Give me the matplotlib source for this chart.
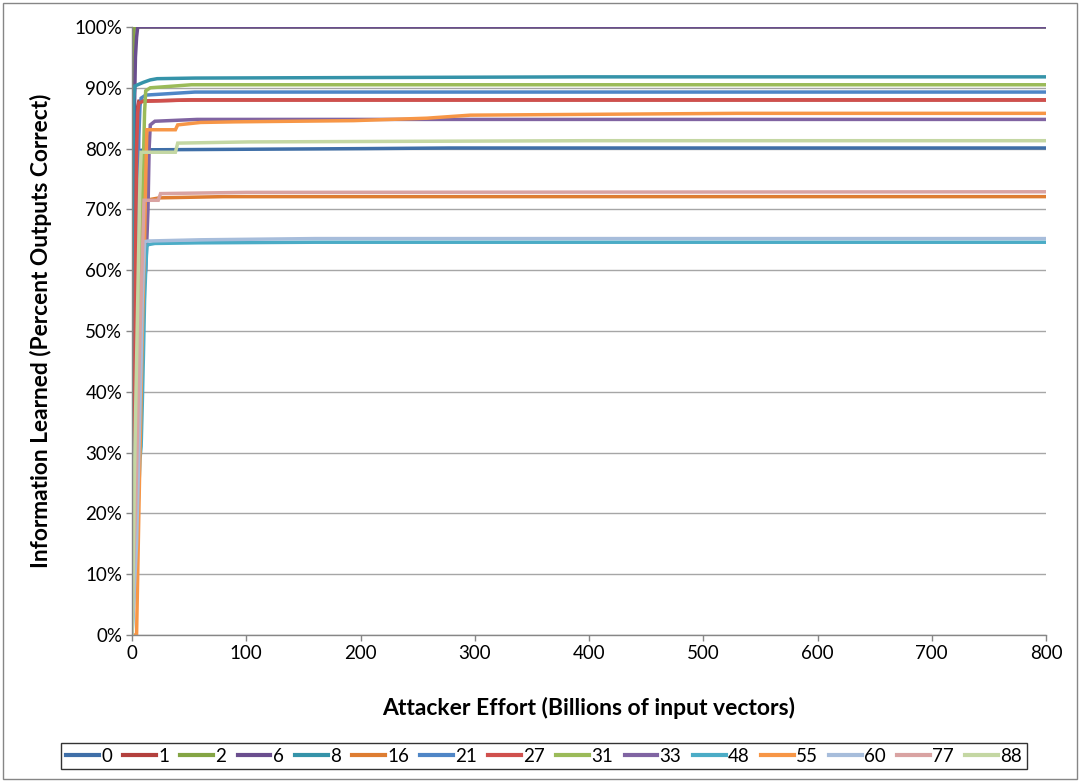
import matplotlib
matplotlib.use("Agg")
import matplotlib.pyplot as plt
from matplotlib.ticker import PercentFormatter, MultipleLocator
from matplotlib.patches import Rectangle

plt.rcParams['font.family'] = ['Lato', 'DejaVu Sans']

# ---- data (x: billions of input vectors, y: percent outputs correct) ----
labels = ["0", "1", "2", "6", "8", "16", "21", "27", "31", "33", "48", "55", "60", "77", "88"]

x0 = [0, 1, 2, 3, 4, 12, 204, 278, 800]
y0 = [15, 40, 62, 78, 79.6, 79.8, 80.0, 80.1, 80.1]

x1 = [0, 1, 2, 3, 4, 6, 50, 800]
y1 = [12, 30, 55, 80, 86, 87.8, 88.0, 88.0]

x2 = [0, 0.5, 1, 1.5, 2, 800]
y2 = [13, 60, 90, 98, 100, 100]

x6 = [0, 0.5, 1, 2, 3, 4, 5, 800]
y6 = [27, 45, 65, 85, 95, 98.3, 100, 100]

x8 = [0, 0.5, 1, 1.5, 2.5, 5, 10, 16, 22, 55, 395, 800]
y8 = [30, 60, 80, 88, 90.3, 90.5, 90.9, 91.3, 91.5, 91.6, 91.8, 91.8]

x16 = [0, 2, 4, 6, 8, 10, 12, 24, 80, 800]
y16 = [5, 20, 40, 55, 65, 70, 71.5, 71.9, 72.1, 72.1]

x21 = [0, 3, 5, 6, 7, 8, 12, 55, 800]
y21 = [20, 50, 70, 82, 87, 88.3, 88.8, 89.3, 89.3]

x27 = [0, 2, 3, 4, 5, 6, 10, 52, 800]
y27 = [10, 30, 60, 80, 86, 87.5, 87.8, 88.0, 88.0]

x31 = [0, 5, 8, 10, 11, 12, 16, 52, 800]
y31 = [10, 35, 60, 78, 86, 89.5, 90.0, 90.5, 90.5]

x33 = [0, 6, 10, 12, 14, 15, 16, 20, 57, 800]
y33 = [20, 45, 57, 60, 70, 80, 83.9, 84.5, 84.8, 84.8]

x48 = [0, 6, 7, 8, 9, 10, 11, 12, 13, 14, 20, 58, 160, 800]
y48 = [0, 24, 29, 31, 38, 46, 55, 60, 63.9, 64.2, 64.4, 64.5, 64.6, 64.6]

x55 = [0, 4, 5, 7, 9, 11, 12, 13, 38, 40, 60, 90, 194, 258, 296, 530, 800]
y55 = [0, 0, 10, 30, 50, 65, 75, 83.1, 83.1, 83.9, 84.3, 84.4, 84.6, 85.0, 85.5, 85.8, 85.8]

x60 = [0, 4, 6, 8, 9, 10, 11, 14, 60, 160, 800]
y60 = [0, 15, 30, 45, 55, 60, 64.7, 64.8, 65.0, 65.2, 65.2]

x77 = [0, 3, 5, 7, 9, 10, 10.5, 23, 25, 100, 800]
y77 = [5, 20, 35, 50, 62, 68, 71.5, 71.5, 72.6, 72.8, 72.9]

x88 = [0, 1, 2, 4, 6, 7, 8, 38, 40, 102, 398, 800]
y88 = [0, 10, 25, 45, 65, 75, 79.4, 79.4, 80.9, 81.1, 81.3, 81.3]

xs = [x0, x1, x2, x6, x8, x16, x21, x27, x31, x33, x48, x55, x60, x77, x88]
ys = [y0, y1, y2, y6, y8, y16, y21, y27, y31, y33, y48, y55, y60, y77, y88]

colors = ["#3F6FA8", "#B3403D", "#84A544", "#6A4E8E", "#3593A9", "#DE7D31",
          "#4F86C6", "#D0504D", "#9BBB59", "#8064A2", "#4BACC6", "#F79646",
          "#A7BDDB", "#D9A3A2", "#C4D7A3"]

# ---- figure ----
fig = plt.figure(figsize=(10.8, 7.82), dpi=100)
ax = fig.add_axes([132/1080, 1-635/782, (1046-132)/1080, (635-27)/782])

for x, y, c, lab in zip(xs, ys, colors, labels):
    ax.plot(x, y, color=c, lw=2.5, label=lab, solid_joinstyle='miter')

ax.set_xlim(0, 800)
ax.set_ylim(0, 100)
ax.xaxis.set_major_locator(MultipleLocator(100))
ax.yaxis.set_major_locator(MultipleLocator(10))
ax.yaxis.set_major_formatter(PercentFormatter(100, decimals=0))
ax.grid(axis='y', color='#A6A6A6', lw=1)
ax.set_axisbelow(True)
for s in ['top', 'right']:
    ax.spines[s].set_visible(False)
for s in ['left', 'bottom']:
    ax.spines[s].set_color('#868686')
    ax.spines[s].set_linewidth(1)
ax.tick_params(axis='both', direction='out', length=4, width=1, color='#868686',
               labelsize=13.5, labelcolor='black', pad=3)

ax.set_xlabel("Attacker Effort (Billions of input vectors)", fontsize=16.5, fontweight='bold')
ax.set_ylabel("Information Learned (Percent Outputs Correct)", fontsize=16.4, fontweight='bold')
ax.xaxis.set_label_coords(0.5, -(697-635)/608)
ax.yaxis.set_label_coords(-(132-52)/914, 0.5)

leg = fig.legend(loc='center', bbox_to_anchor=(544/1080, 1-756/782), ncol=15,
                 frameon=True, fancybox=False, edgecolor='black', fontsize=13.5,
                 handlelength=1.75, handletextpad=0.12, columnspacing=0.6,
                 borderpad=0.25, borderaxespad=0)
leg.get_frame().set_linewidth(1)
for h in leg.get_lines():
    h.set_linewidth(3)

fig.patches.append(Rectangle((3/1080, 3/782), 1074/1080, 776/782, transform=fig.transFigure,
                             fill=False, edgecolor='#868686', lw=1))

fig.savefig("out.png", dpi=100)
